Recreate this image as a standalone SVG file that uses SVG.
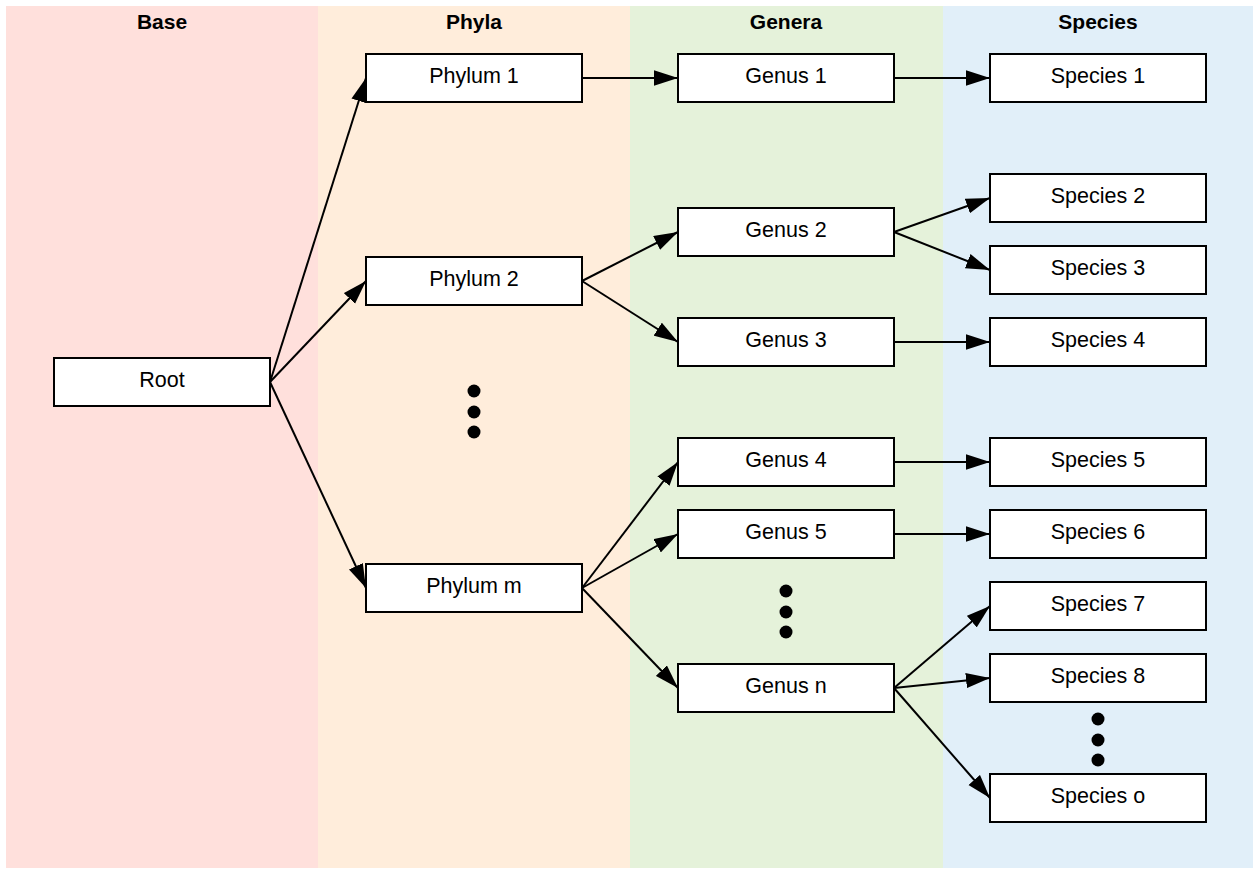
<svg xmlns="http://www.w3.org/2000/svg" width="1253" height="869" viewBox="0 0 1253 869">
  <defs>
    <marker id="arrow" markerUnits="userSpaceOnUse" markerWidth="24" markerHeight="16" viewBox="0 0 22 14" refX="22" refY="7" orient="auto">
      <path d="M0,0 L22,7 L0,14 Z" fill="#000"/>
    </marker>
    <style>
      .lane-title { font-family: "Liberation Sans", Arial, sans-serif; font-size: 21px; font-weight: bold; fill: #000; text-anchor: middle; }
      .node rect { fill: #fff; stroke: #000; stroke-width: 2; }
      .node text { font-family: "Liberation Sans", Arial, sans-serif; font-size: 21.5px; fill: #000; text-anchor: middle; }
      .edge { fill: none; stroke: #000; stroke-width: 2; marker-end: url(#arrow); }
      .dot { fill: #000; }
    </style>
  </defs>

  <rect width="1253" height="869" fill="#fff"/>

  <!-- swimlanes -->
  <g id="lanes">
    <rect x="6" y="6" width="312" height="862" fill="#ffe0dc"/>
    <rect x="318" y="6" width="312" height="862" fill="#ffeddb"/>
    <rect x="630" y="6" width="313" height="862" fill="#e5f2da"/>
    <rect x="943" y="6" width="310" height="862" fill="#e1eff9"/>
    <text class="lane-title" x="162" y="29">Base</text>
    <text class="lane-title" x="474" y="29">Phyla</text>
    <text class="lane-title" x="786" y="29">Genera</text>
    <text class="lane-title" x="1098" y="29">Species</text>
  </g>

  <!-- connectors -->
  <g id="connectors">
    <path class="edge" d="M270,382 L366,78"/>
    <path class="edge" d="M270,382 L366,281"/>
    <path class="edge" d="M270,382 L366,588"/>
    <path class="edge" d="M582,78 L678,78"/>
    <path class="edge" d="M894,78 L990,78"/>
    <path class="edge" d="M582,281 L678,232"/>
    <path class="edge" d="M582,281 L678,342"/>
    <path class="edge" d="M894,232 L990,198"/>
    <path class="edge" d="M894,232 L990,270"/>
    <path class="edge" d="M894,342 L990,342"/>
    <path class="edge" d="M582,588 L678,462"/>
    <path class="edge" d="M582,588 L678,534"/>
    <path class="edge" d="M582,588 L678,688"/>
    <path class="edge" d="M894,462 L990,462"/>
    <path class="edge" d="M894,534 L990,534"/>
    <path class="edge" d="M894,688 L990,606"/>
    <path class="edge" d="M894,688 L990,678"/>
    <path class="edge" d="M894,688 L990,798"/>
  </g>

  <!-- ellipsis markers -->
  <g id="ellipsis">
    <circle class="dot" cx="474" cy="391" r="6.5"/>
    <circle class="dot" cx="474" cy="412" r="6.5"/>
    <circle class="dot" cx="474" cy="432" r="6.5"/>
    <circle class="dot" cx="786" cy="591" r="6.5"/>
    <circle class="dot" cx="786" cy="612" r="6.5"/>
    <circle class="dot" cx="786" cy="632" r="6.5"/>
    <circle class="dot" cx="1098" cy="719" r="6.5"/>
    <circle class="dot" cx="1098" cy="740" r="6.5"/>
    <circle class="dot" cx="1098" cy="760" r="6.5"/>
  </g>

  <!-- base -->
  <g id="root" class="node"><rect x="54" y="358" width="216" height="48"/><text x="162" y="387">Root</text></g>

  <!-- phyla -->
  <g id="phylum-1" class="node"><rect x="366" y="54" width="216" height="48"/><text x="474" y="83">Phylum 1</text></g>
  <g id="phylum-2" class="node"><rect x="366" y="257" width="216" height="48"/><text x="474" y="286">Phylum 2</text></g>
  <g id="phylum-m" class="node"><rect x="366" y="564" width="216" height="48"/><text x="474" y="593">Phylum m</text></g>

  <!-- genera -->
  <g id="genus-1" class="node"><rect x="678" y="54" width="216" height="48"/><text x="786" y="83">Genus 1</text></g>
  <g id="genus-2" class="node"><rect x="678" y="208" width="216" height="48"/><text x="786" y="237">Genus 2</text></g>
  <g id="genus-3" class="node"><rect x="678" y="318" width="216" height="48"/><text x="786" y="347">Genus 3</text></g>
  <g id="genus-4" class="node"><rect x="678" y="438" width="216" height="48"/><text x="786" y="467">Genus 4</text></g>
  <g id="genus-5" class="node"><rect x="678" y="510" width="216" height="48"/><text x="786" y="539">Genus 5</text></g>
  <g id="genus-n" class="node"><rect x="678" y="664" width="216" height="48"/><text x="786" y="693">Genus n</text></g>

  <!-- species -->
  <g id="species-1" class="node"><rect x="990" y="54" width="216" height="48"/><text x="1098" y="83">Species 1</text></g>
  <g id="species-2" class="node"><rect x="990" y="174" width="216" height="48"/><text x="1098" y="203">Species 2</text></g>
  <g id="species-3" class="node"><rect x="990" y="246" width="216" height="48"/><text x="1098" y="275">Species 3</text></g>
  <g id="species-4" class="node"><rect x="990" y="318" width="216" height="48"/><text x="1098" y="347">Species 4</text></g>
  <g id="species-5" class="node"><rect x="990" y="438" width="216" height="48"/><text x="1098" y="467">Species 5</text></g>
  <g id="species-6" class="node"><rect x="990" y="510" width="216" height="48"/><text x="1098" y="539">Species 6</text></g>
  <g id="species-7" class="node"><rect x="990" y="582" width="216" height="48"/><text x="1098" y="611">Species 7</text></g>
  <g id="species-8" class="node"><rect x="990" y="654" width="216" height="48"/><text x="1098" y="683">Species 8</text></g>
  <g id="species-o" class="node"><rect x="990" y="774" width="216" height="48"/><text x="1098" y="803">Species o</text></g>
</svg>
